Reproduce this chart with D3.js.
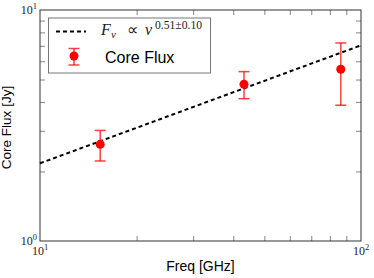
<!DOCTYPE html>
<html>
<head>
<meta charset="utf-8">
<script src="https://cdn.jsdelivr.net/npm/d3@7"></script>
<style>
  body { margin: 0; background: #fff; }
  svg { display: block; }
</style>
</head>
<body>
<svg id="chart" width="374" height="278"></svg>
<script>
// data
var freqs = [15.4, 43.2, 86.5];          // GHz
var flux = [2.62, 4.77, 5.54];           // Jy
var fluxLo = [2.22, 4.13, 3.87];
var fluxHi = [3.01, 5.41, 7.20];

// power-law fit F ~ nu^0.51, sampled at the axis ends
var fitFreqs = [10, 100];
var fitFlux = [2.17, 7.03];

var xMajor = [10, 100];
var xMajorExp = ["1", "2"];
var yMajor = [1, 10];
var yMajorExp = ["0", "1"];
var xMinor = [20, 30, 40, 50, 60, 70, 80, 90];
var yMinor = [2, 3, 4, 5, 6, 7, 8, 9];

var margin = { left: 40, top: 10, right: 13, bottom: 37 };
var W = 374, H = 278;
var w = W - margin.left - margin.right,
    h = H - margin.top - margin.bottom;

var svg = d3.select("#chart");
var g = svg.append("g")
    .attr("transform", "translate(" + margin.left + "," + margin.top + ")");

var x = d3.scaleLog().domain([10, 100]).range([0, w]);
var y = d3.scaleLog().domain([1, 10]).range([h, 0]);

// inward minor ticks on all four sides
function tickAxis(axis, tx, ty) {
    var a = g.append("g")
        .attr("transform", "translate(" + tx + "," + ty + ")")
        .call(axis);
    a.select(".domain").remove();
    a.selectAll("line").attr("stroke", "#666").attr("stroke-width", 0.8);
}
tickAxis(d3.axisBottom(x).tickValues(xMinor).tickSize(-5).tickFormat(""), 0, h);
tickAxis(d3.axisTop(x).tickValues(xMinor).tickSize(-5).tickFormat(""), 0, 0);
tickAxis(d3.axisLeft(y).tickValues(yMinor).tickSize(-5).tickFormat(""), 0, 0);
tickAxis(d3.axisRight(y).tickValues(yMinor).tickSize(-5).tickFormat(""), w, 0);

// frame
g.append("rect")
    .attr("width", w)
    .attr("height", h)
    .attr("fill", "none")
    .attr("stroke", "#333")
    .attr("stroke-width", 1);

// major tick labels as 10^n
function powLabel(px, py, exp, anchor) {
    var t = svg.append("text")
        .attr("x", px)
        .attr("y", py)
        .attr("text-anchor", anchor)
        .attr("font-family", "'Liberation Serif', serif")
        .attr("font-size", 12)
        .attr("fill", "#222");
    t.append("tspan").text("10");
    t.append("tspan").attr("dy", -5).attr("font-size", 8.5).text(exp);
}
xMajor.forEach(function(v, i) {
    powLabel(margin.left + x(v), margin.top + h + 14, xMajorExp[i], "middle");
});
yMajor.forEach(function(v, i) {
    powLabel(margin.left - 3, margin.top + y(v) + 4, yMajorExp[i], "end");
});

// axis labels
svg.append("text")
    .attr("x", margin.left + w / 2)
    .attr("y", 271)
    .attr("text-anchor", "middle")
    .attr("font-family", "'Liberation Sans', Arial, sans-serif")
    .attr("font-size", 14)
    .text("Freq [GHz]");

svg.append("text")
    .attr("transform", "translate(11," + (margin.top + h / 2 + 2) + ") rotate(-90)")
    .attr("text-anchor", "middle")
    .attr("font-family", "'Liberation Sans', Arial, sans-serif")
    .attr("font-size", 13.5)
    .text("Core Flux [Jy]");

// fit line
var line = d3.line()
    .x(function(d, i) { return x(fitFreqs[i]); })
    .y(function(d) { return y(d); });

g.append("path")
    .datum(fitFlux)
    .attr("d", line)
    .attr("fill", "none")
    .attr("stroke", "#000")
    .attr("stroke-width", 2)
    .attr("stroke-dasharray", "4,3");

// error bars
var red = "#ff0000";
var pts = g.selectAll(".pt")
    .data(freqs)
    .enter()
    .append("g")
    .attr("class", "pt");

pts.append("line")
    .attr("x1", function(d) { return x(d); })
    .attr("x2", function(d) { return x(d); })
    .attr("y1", function(d, i) { return y(fluxLo[i]); })
    .attr("y2", function(d, i) { return y(fluxHi[i]); })
    .attr("stroke", red).attr("stroke-opacity", 0.75).attr("stroke-width", 1.5);
[fluxLo, fluxHi].forEach(function(arr) {
    pts.append("line")
        .attr("x1", function(d) { return x(d) - 5.5; })
        .attr("x2", function(d) { return x(d) + 5.5; })
        .attr("y1", function(d, i) { return y(arr[i]); })
        .attr("y2", function(d, i) { return y(arr[i]); })
        .attr("stroke", red).attr("stroke-opacity", 0.75).attr("stroke-width", 1.5);
});
pts.append("circle")
    .attr("cx", function(d) { return x(d); })
    .attr("cy", function(d, i) { return y(flux[i]); })
    .attr("r", 4.5)
    .attr("fill", red);

// legend
var lg = svg.append("g");
lg.append("rect")
    .attr("x", 48.5).attr("y", 18)
    .attr("width", 162).attr("height", 55)
    .attr("fill", "#fff")
    .attr("stroke", "#777")
    .attr("stroke-width", 1);

lg.append("line")
    .attr("x1", 56).attr("x2", 86)
    .attr("y1", 31.5).attr("y2", 31.5)
    .attr("stroke", "#000").attr("stroke-width", 2)
    .attr("stroke-dasharray", "4,3");

// F_nu ∝ nu^(0.51±0.10), pieces placed like mathtext
function mathPiece(px, py, size, italic, txt) {
    return lg.append("text")
        .attr("x", px).attr("y", py)
        .attr("font-family", "'Liberation Serif', serif")
        .attr("font-size", size)
        .attr("font-style", italic ? "italic" : "normal")
        .attr("fill", "#222")
        .text(txt);
}
mathPiece(101, 34.5, 16, true, "F");
mathPiece(111, 37.5, 11, true, "ν");
mathPiece(127, 34.5, 16, false, "∝");
mathPiece(145, 34.5, 16, true, "ν");
mathPiece(155, 28.5, 11.5, false, "0.51±0.10")
    .attr("textLength", 47)
    .attr("lengthAdjust", "spacingAndGlyphs");

lg.append("line")
    .attr("x1", 74).attr("x2", 74)
    .attr("y1", 48.5).attr("y2", 65)
    .attr("stroke", red).attr("stroke-opacity", 0.75).attr("stroke-width", 1.5);
[48.5, 65].forEach(function(cy) {
    lg.append("line")
        .attr("x1", 68.5).attr("x2", 79.5)
        .attr("y1", cy).attr("y2", cy)
        .attr("stroke", red).attr("stroke-opacity", 0.75).attr("stroke-width", 1.5);
});
lg.append("circle")
    .attr("cx", 74).attr("cy", 56)
    .attr("r", 4.5)
    .attr("fill", red);

lg.append("text")
    .attr("x", 105).attr("y", 62.5)
    .attr("font-family", "'Liberation Sans', Arial, sans-serif")
    .attr("font-size", 16)
    .text("Core Flux");
</script>
</body>
</html>
